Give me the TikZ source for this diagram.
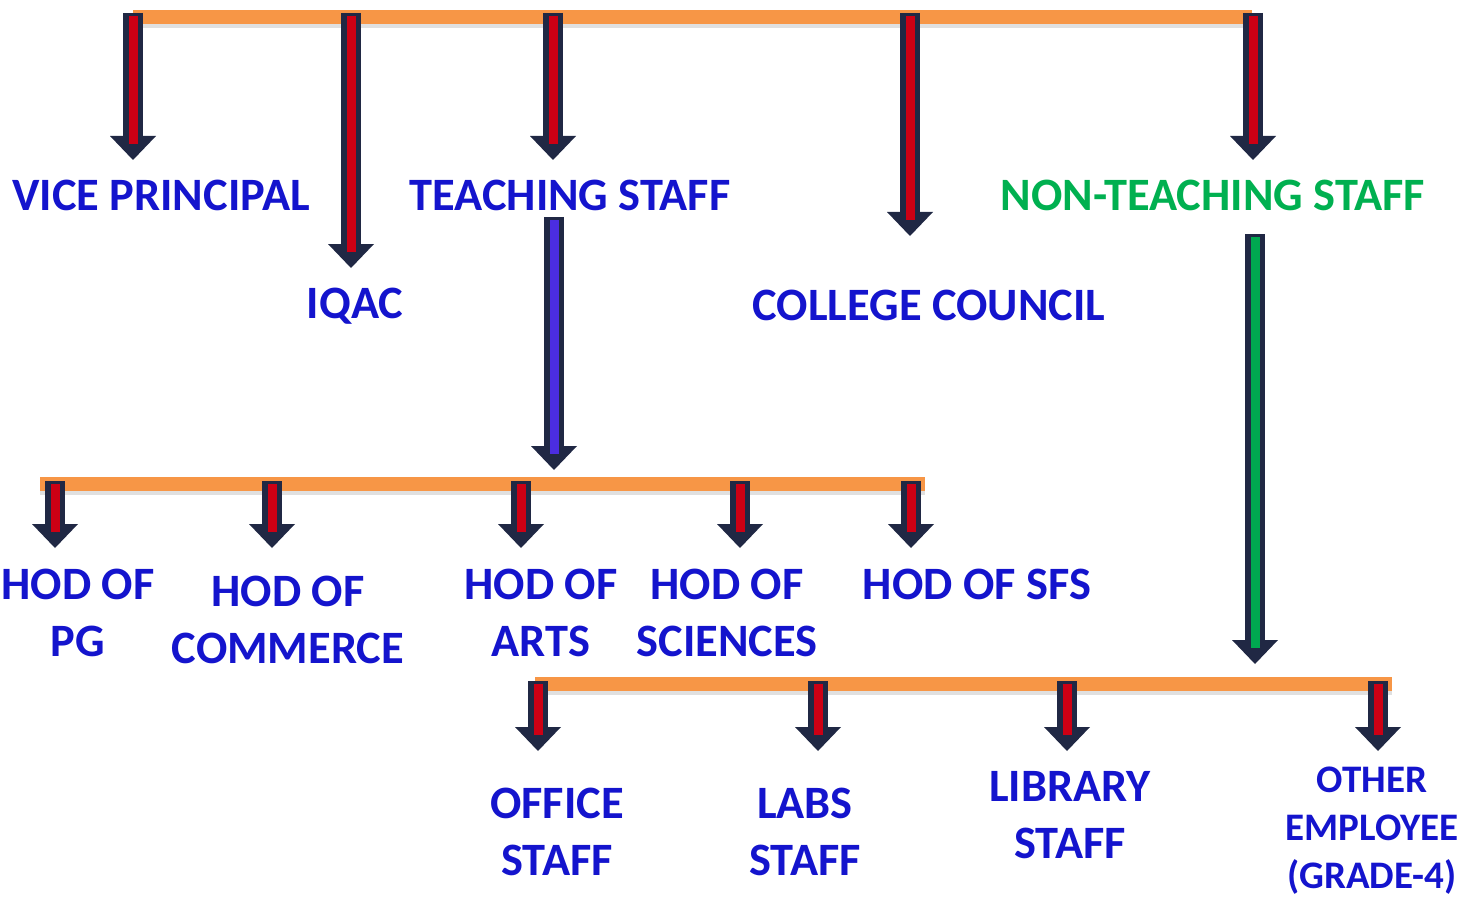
\documentclass[tikz,border=0pt]{standalone}
\usepackage{fontspec}
\setmainfont{Carlito}
\usetikzlibrary{arrows.meta}

\definecolor{labelblue}{RGB}{20,20,205}
\definecolor{labelgreen}{RGB}{0,176,80}
\definecolor{barorange}{RGB}{247,150,70}
\definecolor{arrowedge}{RGB}{32,40,68}
\definecolor{arrowred}{RGB}{205,0,20}
\definecolor{arrowblue}{RGB}{75,45,225}
\definecolor{arrowgreen}{RGB}{0,168,80}

\tikzset{
  post/.style={text=labelblue, font=\fontsize{23.2}{28.5}\selectfont\bfseries,
    align=center, inner sep=0pt, anchor=north},
  bar/.style={line width=7pt, barorange},
  barshadow/.style={line width=7pt, black!12},
  shaft/.style={line width=10pt, arrowedge,
    -{Triangle[length=12pt, width=23pt, line width=0pt]}},
  core/.style={line width=4.5pt},
}
\newcommand{\flowarrow}[3][arrowred]{%
  \draw[shaft] (#2) -- (#3);
  \draw[core, #1] ([yshift=-1.5pt]#2) -- ([yshift=8pt]#3);
}

\begin{document}
\begin{tikzpicture}[x=0.5pt, y=-0.5pt]
  \useasboundingbox (0,0) rectangle (1479,899);

  % Top level: bar and the five posts under it
  \coordinate (topL) at (133,17);
  \coordinate (topR) at (1252,17);
  \draw[barshadow] ([yshift=-2pt]topL) -- ([yshift=-2pt]topR);
  \draw[bar] (topL) -- (topR);

  \node[post] (vp) at (161,180) {VICE PRINCIPAL};
  \node[post] (iqac) at (355,288) {IQAC};
  \node[post] (teach) at (570,180) {TEACHING STAFF};
  \node[post] (council) at (929,290) {COLLEGE COUNCIL};
  \node[post, text=labelgreen] (nonteach) at (1213,180) {NON-TEACHING STAFF};

  \coordinate (vp-top) at (133,13);   \coordinate (vp-in) at (133,160);
  \coordinate (iqac-top) at (351,13); \coordinate (iqac-in) at (351,268);
  \coordinate (teach-top) at (553,13); \coordinate (teach-in) at (553,160);
  \coordinate (council-top) at (910,13); \coordinate (council-in) at (910,236);
  \coordinate (nt-top) at (1253,13);  \coordinate (nt-in) at (1253,160);
  \flowarrow{vp-top}{vp-in}
  \flowarrow{iqac-top}{iqac-in}
  \flowarrow{teach-top}{teach-in}
  \flowarrow{council-top}{council-in}
  \flowarrow{nt-top}{nt-in}

  % Teaching staff: heads of departments
  \coordinate (teach-out) at (554,217);
  \coordinate (hod-in) at (554,470);
  \flowarrow[arrowblue]{teach-out}{hod-in}

  \coordinate (midL) at (40,484);
  \coordinate (midR) at (925,484);
  \draw[barshadow] ([yshift=-2pt]midL) -- ([yshift=-2pt]midR);
  \draw[bar] (midL) -- (midR);

  \node[post] (hodpg) at (78,569) {HOD OF\\PG};
  \node[post] (hodcom) at (288,576) {HOD OF\\COMMERCE};
  \node[post] (hodarts) at (541,569) {HOD OF\\ARTS};
  \node[post] (hodsci) at (727,569) {HOD OF\\SCIENCES};
  \node[post] (hodsfs) at (977,569) {HOD OF SFS};

  \coordinate (pg-top) at (55,481);    \coordinate (pg-in) at (55,548);
  \coordinate (com-top) at (272,481);  \coordinate (com-in) at (272,548);
  \coordinate (arts-top) at (521,481); \coordinate (arts-in) at (521,548);
  \coordinate (sci-top) at (740,481);  \coordinate (sci-in) at (740,548);
  \coordinate (sfs-top) at (911,481);  \coordinate (sfs-in) at (911,548);
  \flowarrow{pg-top}{pg-in}
  \flowarrow{com-top}{com-in}
  \flowarrow{arts-top}{arts-in}
  \flowarrow{sci-top}{sci-in}
  \flowarrow{sfs-top}{sfs-in}

  % Non-teaching staff
  \coordinate (nt-out) at (1255,234);
  \coordinate (staff-in) at (1255,664);
  \flowarrow[arrowgreen]{nt-out}{staff-in}

  \coordinate (botL) at (535,684);
  \coordinate (botR) at (1392,684);
  \draw[barshadow] ([yshift=-2pt]botL) -- ([yshift=-2pt]botR);
  \draw[bar] (botL) -- (botR);

  \node[post] (office) at (557,788) {OFFICE\\STAFF};
  \node[post] (labs) at (805,788) {LABS\\STAFF};
  \node[post] (library) at (1070,771) {LIBRARY\\STAFF};
  \node[post, font=\fontsize{19.5}{24}\selectfont\bfseries] (other) at (1372,767)
    {OTHER\\EMPLOYEE\\(GRADE-4)};

  \coordinate (office-top) at (538,681);  \coordinate (office-in) at (538,751);
  \coordinate (labs-top) at (818,681);    \coordinate (labs-in) at (818,751);
  \coordinate (library-top) at (1067,681); \coordinate (library-in) at (1067,751);
  \coordinate (other-top) at (1378,681);  \coordinate (other-in) at (1378,751);
  \flowarrow{office-top}{office-in}
  \flowarrow{labs-top}{labs-in}
  \flowarrow{library-top}{library-in}
  \flowarrow{other-top}{other-in}
\end{tikzpicture}
\end{document}
